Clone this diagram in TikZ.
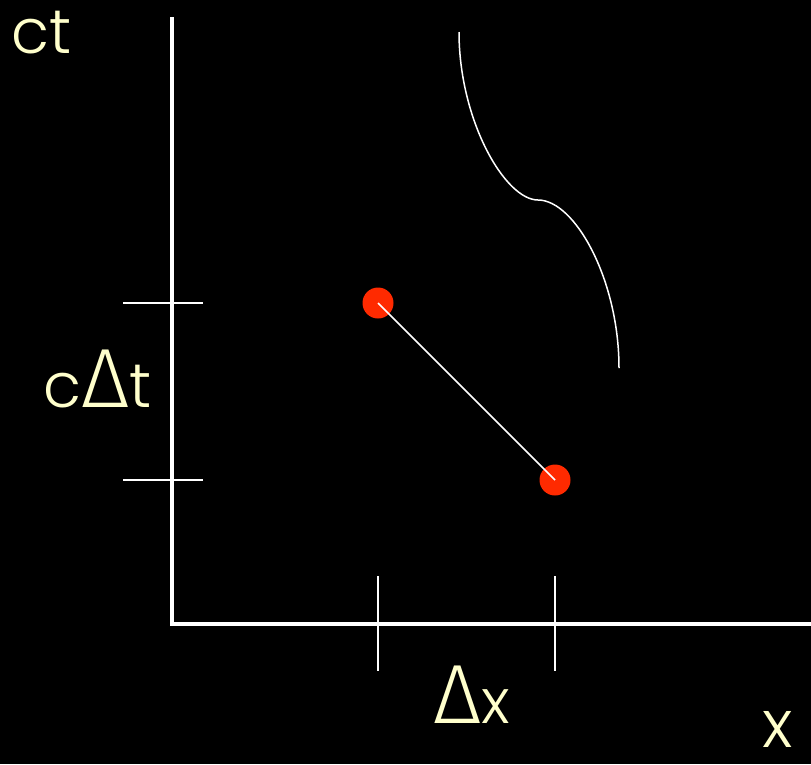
\documentclass[tikz,border=0pt]{standalone}
\usepackage{fontspec}
\setmainfont{Poppins}[UprightFont=* Light]
\newfontfamily\deltafont{Fira Sans}[UprightFont=* Light]
\definecolor{lbl}{HTML}{FFFFCC}
\definecolor{dotred}{HTML}{FF2A00}
\newcommand{\bigdelta}{{\deltafont\fontsize{84}{90}\selectfont\char"0394}}
\begin{document}
\begin{tikzpicture}[x=1pt,y=-1pt,
  axis/.style={white,line width=4pt},
  tick/.style={white,line width=1.3pt},
  thinline/.style={white,line width=1.5pt},
  evt/.style={circle,fill=dotred,minimum size=31pt,inner sep=0pt},
  lab/.style={text=lbl,font=\fontsize{62}{70}\selectfont,inner sep=0pt,anchor=base west}]
\fill[black] (0,0) rectangle (811,764);
\useasboundingbox (0,0) rectangle (811,764);
% axes
\coordinate (ytop) at (172,17);
\coordinate (orig) at (172,624);
\coordinate (xend) at (811,624);
\draw[axis] (ytop) -- (orig) -- (xend);
% ticks
\coordinate (ya1) at (123,303); \coordinate (yb1) at (203,303);
\coordinate (ya2) at (123,480); \coordinate (yb2) at (203,480);
\coordinate (xa1) at (378,576); \coordinate (xb1) at (378,671);
\coordinate (xa2) at (555,576); \coordinate (xb2) at (555,671);
\draw[tick] (ya1) -- (yb1);
\draw[tick] (ya2) -- (yb2);
\draw[tick] (xa1) -- (xb1);
\draw[tick] (xa2) -- (xb2);
% events
\node[evt] (e1) at (378,303) {};
\node[evt] (e2) at (555,480) {};
\draw[thinline] (e1.center) -- (e2.center);
% world line
\coordinate (w1) at (459,32);
\coordinate (w2) at (538,200);
\coordinate (w3) at (619,368);
\draw[thinline] (w1) .. controls (459,120) and (505,200) .. (w2)
  .. controls (575,200) and (619,280) .. (w3);
% labels
\node[lab] (lct) at (11,53) {ct};
\node[lab] (lcdt) at (43,407) {c\bigdelta t};
\node[lab] (ldx) at (433,723) {\bigdelta x};
\node[lab,font=\fontsize{66}{70}\selectfont] (lx) at (762,747) {x};
\end{tikzpicture}
\end{document}
